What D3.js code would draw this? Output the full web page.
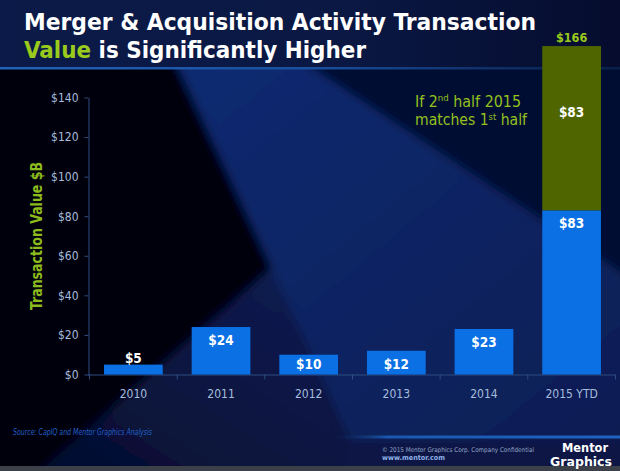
<!DOCTYPE html>
<html><head><meta charset="utf-8">
<script src="https://cdn.jsdelivr.net/npm/d3@7"></script>
<style>html,body{margin:0;padding:0;background:#000;overflow:hidden}</style>
</head><body>
<svg id="c" width="620" height="471"></svg>
<script>
// ---- data ----
const categories = ["2010", "2011", "2012", "2013", "2014", "2015 YTD"];
const actualValues = [5, 24, 10, 12, 23, 83];
const projectedValues = [0, 0, 0, 0, 0, 83];
const yTicks = [0, 20, 40, 60, 80, 100, 120, 140];
const titleLine1 = "Merger & Acquisition Activity Transaction";
const titleHighlight = "Value";
const titleLine2Rest = " is Significantly Higher";
const yAxisTitle = "Transaction Value $B";
const sourceText = "Source: CapIQ and Mentor Graphics Analysis";
const copyrightText = "\u00A9 2015 Mentor Graphics Corp.     Company Confidential";
const urlText = "www.mentor.com";

const W = 620, H = 471;
const FONT = "'DejaVu Sans Condensed','DejaVu Sans',sans-serif";
const svg = d3.select("#c");
const defs = svg.append("defs");

function lin(id, x1, y1, x2, y2, stops) {
  const g = defs.append("linearGradient").attr("id", id)
    .attr("x1", x1).attr("y1", y1).attr("x2", x2).attr("y2", y2);
  stops.forEach(s => g.append("stop").attr("offset", s[0]).attr("stop-color", s[1]).attr("stop-opacity", s[2] == null ? 1 : s[2]));
}
lin("gTitle", 0, 0, 1, 0, [[0, "#0b1a48"], [0.55, "#0a1843"], [1, "#050c2e"]]);
lin("gBand", 0, 0, 1, 1, [[0, "#0f2a72"], [0.5, "#0c2462"], [1, "#0a1d52"]]);
lin("gWedge", 1, 0, 0, 1, [[0, "#0b1d55"], [1, "#050d2c"]]);
lin("gRule", 0, 0, 1, 0, [[0, "#2262b8"], [0.5, "#1a4f9e"], [0.8, "#0f2f66"], [1, "#0a1f4a"]]);
lin("gRule2", 0, 0, 1, 0, [[0, "#0a2350", 0], [0.2, "#1a58b0"], [1, "#1e62c0"]]);
const blur = defs.append("filter").attr("id", "blur").attr("x", -0.1).attr("y", -0.1).attr("width", 1.2).attr("height", 1.2);
blur.append("feGaussianBlur").attr("stdDeviation", 5);
defs.append("clipPath").attr("id", "mainClip").append("rect").attr("x", 0).attr("y", 69).attr("width", W).attr("height", 397);

// ---- background ----
svg.append("rect").attr("width", W).attr("height", H).attr("fill", "#071339");
svg.append("rect").attr("width", W).attr("height", 69).attr("fill", "url(#gTitle)");
const bg = svg.append("g").attr("clip-path", "url(#mainClip)").append("g").attr("filter", "url(#blur)");
bg.append("rect").attr("x", -20).attr("y", 60).attr("width", W + 40).attr("height", 420).attr("fill", "#081642");
bg.append("polygon").attr("points", "300,60 640,60 640,285").attr("fill", "#050c30");
bg.append("polygon").attr("points", "175,60 300,60 640,285 640,440 350,440").attr("fill", "url(#gBand)");
bg.append("polygon").attr("points", "270,268 352,480 20,480").attr("fill", "url(#gWedge)");
bg.append("polygon").attr("points", "-20,60 175,60 272,268 30,480 -20,480").attr("fill", "#010208");
bg.append("polygon").attr("points", "350,440 640,440 640,480 340,480").attr("fill", "#081745");
svg.append("rect").attr("x", 0).attr("y", 67).attr("width", W).attr("height", 2.5).attr("fill", "url(#gRule)");
svg.append("rect").attr("x", 330).attr("y", 435.5).attr("width", 290).attr("height", 3).attr("fill", "url(#gRule2)");
svg.append("rect").attr("x", 0).attr("y", 466).attr("width", W).attr("height", 5).attr("fill", "#3c4049");

function stretch(sel, target) {
  return sel.attr("textLength", target).attr("lengthAdjust", "spacingAndGlyphs");
}

// ---- title ----
const t1 = svg.append("text").attr("x", 24).attr("y", 29.5).attr("font-family", FONT)
  .attr("font-weight", "bold").attr("font-size", 23.5).attr("fill", "#ffffff").text(titleLine1);
stretch(t1, 512);
const t2 = svg.append("text").attr("x", 24).attr("y", 57.5).attr("font-family", FONT)
  .attr("font-weight", "bold").attr("font-size", 23.5).attr("fill", "#ffffff");
t2.append("tspan").attr("fill", "#9acb1c").text(titleHighlight);
t2.append("tspan").text(titleLine2Rest);
stretch(t2, 342);

// ---- scales ----
const y = d3.scaleLinear().domain([0, 140]).range([374.5, 97.5]);
const x = d3.scaleBand().domain(categories).range([90, 615]).paddingInner(0.33).paddingOuter(0.16);
const axisColor = "#2e4d80", tickText = "#a7bddd";

// y axis
const ya = svg.append("g").attr("transform", "translate(88.5,0)")
  .call(d3.axisLeft(y).tickValues(yTicks).tickFormat(d => "$" + d).tickSize(4).tickSizeOuter(0).tickPadding(6));
ya.select(".domain").attr("stroke", axisColor);
ya.selectAll(".tick line").attr("stroke", axisColor);
ya.selectAll(".tick text").attr("fill", tickText).attr("font-family", FONT).attr("font-size", 12);

// x axis (ticks on category boundaries)
const step = x.step(), gap = step - x.bandwidth();
const lastEdge = x(categories[categories.length - 1]) + x.bandwidth() + gap / 2;
const xa = svg.append("g");
xa.append("line").attr("x1", 88).attr("x2", lastEdge)
  .attr("y1", y(0) + 0.5).attr("y2", y(0) + 0.5).attr("stroke", axisColor);
const bounds = categories.map(c => x(c) - gap / 2).concat([lastEdge]);
xa.selectAll("line.tk").data(bounds).join("line").attr("class", "tk")
  .attr("x1", d => d).attr("x2", d => d).attr("y1", y(0)).attr("y2", y(0) + 5).attr("stroke", axisColor);
xa.selectAll("text").data(categories).join("text")
  .attr("x", d => x(d) + x.bandwidth() / 2).attr("y", 398).attr("text-anchor", "middle")
  .attr("fill", tickText).attr("font-family", FONT).attr("font-size", 12).text(d => d);

// y axis title
const yt = svg.append("text").attr("transform", "translate(42,236) rotate(-90)").attr("text-anchor", "middle")
  .attr("font-family", FONT).attr("font-weight", "bold").attr("font-size", 16.5).attr("fill", "#8dba1c").text(yAxisTitle);
stretch(yt, 148);

// ---- bars ----
const rows = categories.map((c, i) => ({ c, a: actualValues[i], p: projectedValues[i] }));
svg.selectAll("rect.act").data(rows).join("rect").attr("class", "act")
  .attr("x", d => x(d.c)).attr("width", x.bandwidth())
  .attr("y", d => y(d.a)).attr("height", d => y(0) - y(d.a)).attr("fill", "#0a70e4");
svg.selectAll("rect.proj").data(rows.filter(d => d.p > 0)).join("rect").attr("class", "proj")
  .attr("x", d => x(d.c)).attr("width", x.bandwidth())
  .attr("y", d => y(d.a + d.p)).attr("height", d => y(d.a) - y(d.a + d.p)).attr("fill", "#4f6500");

// labels
const lbl = svg.append("g").attr("font-family", FONT).attr("font-weight", "bold").attr("font-size", 13.5).attr("text-anchor", "middle");
lbl.selectAll("text.a").data(rows).join("text").attr("class", "a")
  .attr("x", d => x(d.c) + x.bandwidth() / 2)
  .attr("y", d => {
    const top = y(d.a), h = y(0) - top;
    return h < 16 ? top - 2 : Math.min(top + 18, y(0) - 5.5);
  })
  .attr("fill", "#ffffff").text(d => "$" + d.a);
lbl.selectAll("text.p").data(rows.filter(d => d.p > 0)).join("text").attr("class", "p")
  .attr("x", d => x(d.c) + x.bandwidth() / 2)
  .attr("y", d => y(d.a + d.p) + 0.43 * (y(d.a) - y(d.a + d.p)))
  .attr("fill", "#ffffff").text(d => "$" + d.p);
lbl.selectAll("text.t").data(rows.filter(d => d.p > 0)).join("text").attr("class", "t")
  .attr("x", d => x(d.c) + x.bandwidth() / 2)
  .attr("y", d => y(d.a + d.p) - 4)
  .attr("fill", "#9acb1c").attr("font-size", 12.5).text(d => "$" + (d.a + d.p));

// annotation
const ann = svg.append("g").attr("font-family", FONT).attr("fill", "#94c01e");
const a1 = ann.append("text").attr("x", 415).attr("y", 106.5).attr("font-size", 15);
a1.append("tspan").text("If 2");
a1.append("tspan").attr("font-size", "60%").attr("dy", -5.5).text("nd");
a1.append("tspan").attr("dy", 5.5).text(" half 2015");
stretch(a1, 106);
const a2 = ann.append("text").attr("x", 415).attr("y", 125).attr("font-size", 15);
a2.append("tspan").text("matches 1");
a2.append("tspan").attr("font-size", "60%").attr("dy", -5.5).text("st");
a2.append("tspan").attr("dy", 5.5).text(" half");
stretch(a2, 112);

// ---- footer ----
const src = svg.append("text").attr("x", 13).attr("y", 435).attr("font-family", FONT).attr("font-style", "italic")
  .attr("font-size", 8).attr("fill", "#2060c8").text(sourceText);
stretch(src, 139);
const cp = svg.append("text").attr("x", 382).attr("y", 451.5).attr("font-family", FONT)
  .attr("font-size", 6.5).attr("fill", "#93a6c8").text(copyrightText);
stretch(cp, 152);
const url = svg.append("text").attr("x", 382).attr("y", 460).attr("font-family", FONT).attr("font-weight", "bold")
  .attr("font-size", 7).attr("fill", "#8fb0e8").text(urlText);
stretch(url, 63);
const l1 = svg.append("text").attr("x", 562).attr("y", 451.5).attr("font-family", FONT).attr("font-weight", "bold")
  .attr("font-size", 12).attr("fill", "#ffffff").text("Mentor");
stretch(l1, 46);
const l2 = svg.append("text").attr("x", 550).attr("y", 466).attr("font-family", FONT).attr("font-weight", "bold")
  .attr("font-size", 12).attr("fill", "#ffffff").text("Graphics");
stretch(l2, 62);
</script>
</body></html>
